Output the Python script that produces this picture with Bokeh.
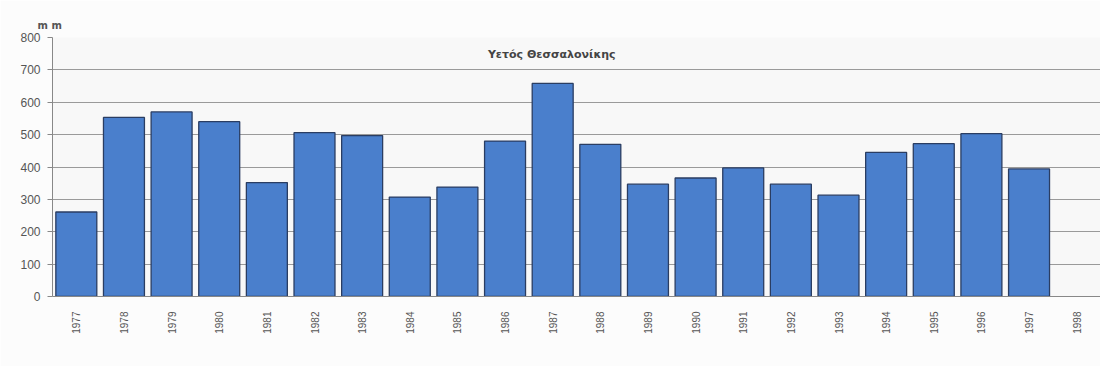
from bokeh.plotting import figure
from bokeh.models import ColumnDataSource, Label, FactorRange, Range1d, Title
from bokeh.embed import file_html
from bokeh.resources import INLINE
import math

years = [str(y) for y in range(1977, 1999)]
rain_years = ["1977", "1978", "1979", "1980", "1981", "1982", "1983", "1984", "1985", "1986",
              "1987", "1988", "1989", "1990", "1991", "1992", "1993", "1994", "1995", "1996", "1997"]
rain_mm = [261, 553, 570, 540, 352, 506, 497, 307, 338, 480,
           658, 470, 347, 366, 397, 347, 313, 445, 472, 503, 394]
y_ticks = [0, 100, 200, 300, 400, 500, 600, 700, 800]
title_text = "Υετός Θεσσαλονίκης"
unit_text = "m m"

src = ColumnDataSource(dict(x=rain_years, top=rain_mm))

p = figure(width=1100, height=366, x_range=FactorRange(*years, range_padding=0),
           y_range=Range1d(0, 800), output_backend="svg", toolbar_location=None,
           min_border_left=52, min_border_right=0, min_border_top=37, min_border_bottom=70)
p.background_fill_color = "#f8f8f8"
p.border_fill_color = "#fcfcfc"
p.outline_line_color = None

p.vbar(x="x", top="top", width=0.86, source=src, fill_color="#4a7fcc",
       line_color="#2a3d62", line_width=1.3)

p.xgrid.grid_line_color = None
p.ygrid.grid_line_color = "#9a9a9a"
p.ygrid.grid_line_width = 1
p.yaxis.ticker = y_ticks
p.yaxis.axis_line_color = "#888888"
p.yaxis.major_tick_line_color = "#888888"
p.yaxis.major_tick_out = 5
p.yaxis.major_tick_in = 0
p.yaxis.minor_tick_line_color = None
p.yaxis.major_label_text_font = "Liberation Sans"
p.yaxis.major_label_text_font_size = "12px"
p.yaxis.major_label_text_color = "#555555"
p.yaxis.major_label_standoff = 7

p.xaxis.axis_line_color = "#888888"
p.xaxis.major_tick_line_color = None
p.xaxis.major_label_orientation = math.pi / 2
p.xaxis.major_label_text_font = "Liberation Sans"
p.xaxis.major_label_text_font_size = "10px"
p.xaxis.major_label_text_color = "#555555"
p.xaxis.major_label_standoff = 9

p.add_layout(Title(text=unit_text, align="left", offset=-15, text_font="DejaVu Sans",
                   text_font_size="10px", text_font_style="bold", text_color="#555555",
                   standoff=14), "above")
p.add_layout(Label(x=10.48, y=748, text=title_text, text_align="center",
                   text_baseline="middle", text_font="DejaVu Sans", text_font_size="11px",
                   text_font_style="bold", text_color="#444444"))

open("out.html", "w").write(file_html(p, INLINE))
